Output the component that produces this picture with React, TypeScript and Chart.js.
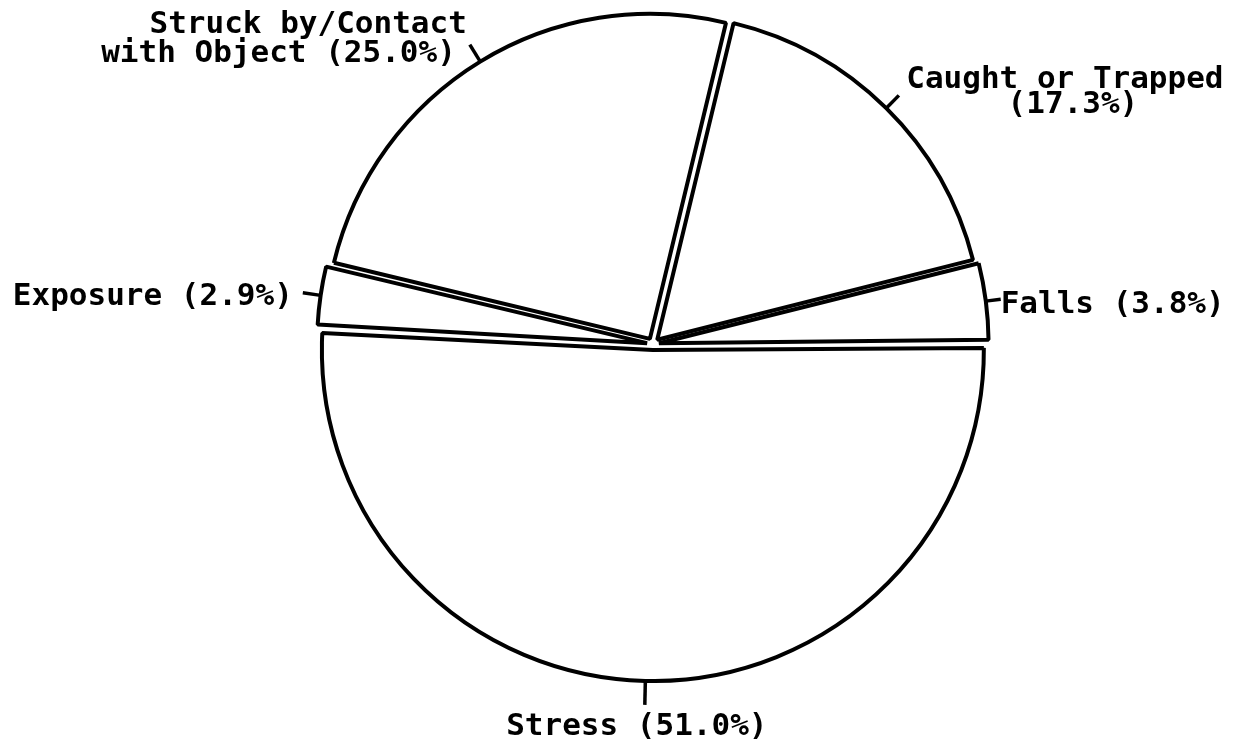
import React, { useEffect, useRef } from 'react';
import { Chart, registerables } from 'chart.js';

Chart.register(...registerables);

// ---- data ----
const categories = ['Stress', 'Exposure', 'Struck by/Contact\nwith Object', 'Caught or Trapped', 'Falls'];
const shares = [51.0, 2.9, 25.0, 17.3, 3.8];
const pctSeparators = [' ', ' ', ' ', '\n', ' '];

// ---- label styling (leader length, alignment, per-line offsets from leader end) ----
const labelAligns: CanvasTextAlign[] = ['center', 'right', 'right', 'center', 'left'];
const leaderLengths = [24, 18, 20, 18, 15];
const lineOffsets = [
  [[-8, 30]],
  [[-10, 12]],
  [[-3, -12], [-14, 17]],
  [[166, -7], [174, 18]],
  [[0, 14]],
];

const FONT = 'bold 31px "DejaVu Sans Mono", "Liberation Mono", monospace';

const labelPlugin = {
  id: 'pieLabels',
  afterDraw(chart: any) {
    const ctx = chart.ctx as CanvasRenderingContext2D;
    const meta = chart.getDatasetMeta(0);
    ctx.save();
    ctx.strokeStyle = '#000';
    ctx.fillStyle = '#000';
    ctx.lineWidth = 3.5;
    ctx.lineCap = 'butt';
    ctx.font = FONT;
    ctx.textBaseline = 'alphabetic';
    meta.data.forEach((arc: any, i: number) => {
      const a = (arc.startAngle + arc.endAngle) / 2;
      const circ = arc.endAngle - arc.startAngle;
      const off = (arc.options.offset || 0) / 4;
      const fix = 1 - Math.sin(Math.min(Math.PI, circ));
      const r = arc.outerRadius + off * fix + off;
      const cx = arc.x;
      const cy = arc.y;
      const px = cx + Math.cos(a) * r;
      const py = cy + Math.sin(a) * r;
      const qx = px + Math.cos(a) * leaderLengths[i];
      const qy = py + Math.sin(a) * leaderLengths[i];
      ctx.beginPath();
      ctx.moveTo(px, py);
      ctx.lineTo(qx, qy);
      ctx.stroke();
      const text = `${categories[i]}${pctSeparators[i]}(${shares[i].toFixed(1)}%)`;
      const lines = text.split('\n');
      ctx.textAlign = labelAligns[i];
      lines.forEach((line, j) => {
        const o = lineOffsets[i][j] || lineOffsets[i][0];
        ctx.fillText(line, qx + o[0], qy + o[1]);
      });
    });
    ctx.restore();
  },
};

export default function App() {
  const ref = useRef<HTMLCanvasElement | null>(null);
  useEffect(() => {
    if (!ref.current) return;
    const chart = new Chart(ref.current, {
      type: 'pie',
      data: {
        labels: categories.map((c) => c.replace('\n', ' ')),
        datasets: [
          {
            data: shares,
            backgroundColor: '#ffffff',
            borderColor: '#000000',
            borderWidth: 4,
            offset: 24,
          },
        ],
      },
      options: {
        responsive: false,
        animation: false,
        events: [],
        rotation: 89.5,
        radius: 325,
        layout: { padding: { left: 72, right: 0, top: 0, bottom: 59 } },
        plugins: {
          legend: { display: false },
          tooltip: { enabled: false },
          title: { display: false },
        },
      } as any,
      plugins: [labelPlugin],
    });
    return () => chart.destroy();
  }, []);
  return (
    <div style={{ position: 'absolute', left: 0, top: 0, width: 1234, height: 747, background: '#fff' }}>
      <canvas ref={ref} width={1234} height={747} style={{ display: 'block' }} />
    </div>
  );
}
